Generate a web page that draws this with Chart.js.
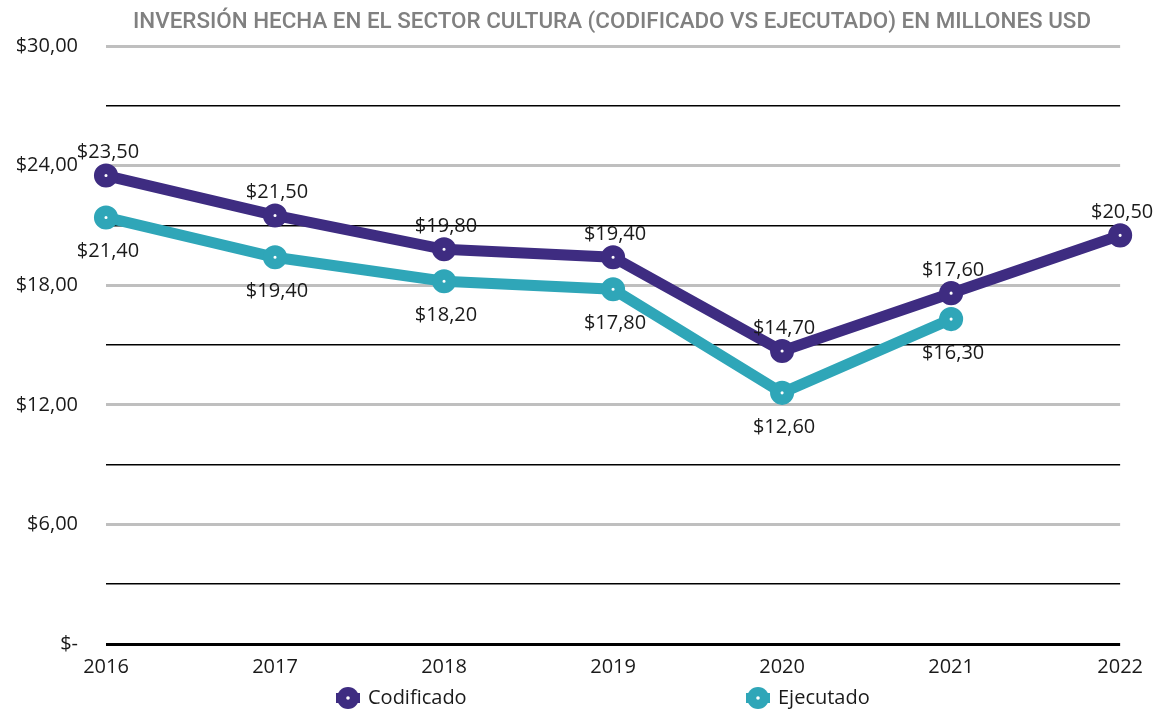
<!DOCTYPE html>
<html><head><meta charset="utf-8">
<script src="https://cdn.jsdelivr.net/npm/chart.js@4/dist/chart.umd.min.js"></script>
<style>html,body{margin:0;padding:0;background:#fff}#wrap{width:1154px;height:709px}</style>
</head><body><div id="wrap"><canvas id="c" width="1154" height="709"></canvas></div>
<script>
const years = ['2016','2017','2018','2019','2020','2021','2022'];
const codificado = [23.5, 21.5, 19.8, 19.4, 14.7, 17.6, 20.5];
const ejecutado = [21.4, 19.4, 18.2, 17.8, 12.6, 16.3, null];
const yTickValues = [0, 6, 12, 18, 24, 30];
const seriesNames = ['Codificado', 'Ejecutado'];
const titleText = 'INVERSIÓN HECHA EN EL SECTOR CULTURA (CODIFICADO VS EJECUTADO) EN MILLONES USD';

const PURPLE = '#3e2c81';
const TEAL = '#2fa6b8';
const FONT = '"Open Sans", sans-serif';

function money(v){
  if (v === 0) return '$-';
  return '$' + v.toFixed(2).replace('.', ',');
}

const titlePlugin = {
  id: 'customTitle',
  afterDraw(chart){
    const ctx = chart.ctx;
    ctx.save();
    ctx.font = '500 22.4px Roboto, sans-serif';
    ctx.fillStyle = '#808080';
    ctx.textAlign = 'center';
    ctx.textBaseline = 'middle';
    ctx.fillText(titleText, 612, 22);
    ctx.restore();
  }
};

const labelPlugin = {
  id: 'valLabels',
  afterDatasetsDraw(chart){
    const ctx = chart.ctx;
    ctx.save();
    ctx.font = '20px ' + FONT;
    ctx.fillStyle = '#1a1a1a';
    ctx.textAlign = 'center';
    ctx.textBaseline = 'middle';
    chart.data.datasets.forEach((ds, di) => {
      const meta = chart.getDatasetMeta(di);
      meta.data.forEach((pt, i) => {
        const v = ds.data[i];
        if (v === null || v === undefined) return;
        const dy = di === 0 ? -23 : 34;
        ctx.fillText(money(v), pt.x + 2, pt.y + dy);
      });
    });
    ctx.restore();
  }
};

const legendPlugin = {
  id: 'customLegend',
  afterDraw(chart){
    const ctx = chart.ctx;
    const items = [{x: 348, c: PURPLE, t: seriesNames[0]}, {x: 758, c: TEAL, t: seriesNames[1]}];
    const y = 698;
    ctx.save();
    items.forEach(it => {
      ctx.strokeStyle = it.c; ctx.lineWidth = 10;
      ctx.beginPath(); ctx.moveTo(it.x - 12, y); ctx.lineTo(it.x + 12, y); ctx.stroke();
      ctx.fillStyle = it.c;
      ctx.beginPath(); ctx.arc(it.x, y, 11, 0, Math.PI*2); ctx.fill();
      ctx.fillStyle = '#fff';
      ctx.beginPath(); ctx.arc(it.x, y, 1.8, 0, Math.PI*2); ctx.fill();
      ctx.fillStyle = '#1a1a1a';
      ctx.font = '20px ' + FONT;
      ctx.textAlign = 'left'; ctx.textBaseline = 'middle';
      ctx.fillText(it.t, it.x + 20, y);
    });
    ctx.restore();
  }
};

const bgPlugin = {
  id: 'bg',
  beforeDraw(chart){
    const ctx = chart.ctx; ctx.save(); ctx.fillStyle = '#fff';
    ctx.fillRect(0, 0, chart.width, chart.height); ctx.restore();
  }
};

function ds(label, data, color){
  return {
    label, data,
    borderColor: color,
    backgroundColor: color,
    borderWidth: 11,
    pointRadius: 6.8,
    pointHoverRadius: 6.8,
    pointBorderWidth: 10.5,
    pointBackgroundColor: '#fff',
    pointBorderColor: color,
    tension: 0,
    clip: false,
    spanGaps: false
  };
}

new Chart(document.getElementById('c'), {
  type: 'line',
  data: {
    labels: years,
    datasets: [ds(seriesNames[0], codificado, PURPLE), ds(seriesNames[1], ejecutado, TEAL)]
  },
  options: {
    responsive: false,
    animation: false,
    events: [],
    layout: { padding: { left: 0, right: 32, top: 46, bottom: 0 } },
    plugins: {
      legend: { display: false },
      tooltip: { enabled: false },
      title: { display: false }
    },
    scales: {
      x: {
        offset: false,
        grid: { display: false, drawTicks: false },
        border: { display: false },
        ticks: { color: '#1a1a1a', font: { family: FONT, size: 20 }, padding: 11, maxRotation: 0 },
        afterFit(s){ s.height = 65; }
      },
      y: {
        min: 0, max: 30,
        afterBuildTicks(s){ s.ticks = [0,3,6,9,12,15,18,21,24,27,30].map(v => ({value: v})); },
        grid: {
          drawTicks: false,
          color(ctx){ const v = ctx.tick ? ctx.tick.value : 0; return (v === 0 || v % 6 !== 0) ? '#000' : '#bfbfbf'; },
          lineWidth(ctx){ const v = ctx.tick ? ctx.tick.value : 0; return v === 0 ? 3 : (v % 6 === 0 ? 3 : 1.5); }
        },
        border: { display: false },
        ticks: {
          color: '#1a1a1a',
          font: { family: FONT, size: 20 },
          padding: 28,
          callback(v){ return yTickValues.includes(v) ? money(v) : ''; }
        },
        afterFit(s){ s.width = 106; }
      }
    }
  },
  plugins: [bgPlugin, labelPlugin, legendPlugin, titlePlugin]
});
</script>
</body></html>
